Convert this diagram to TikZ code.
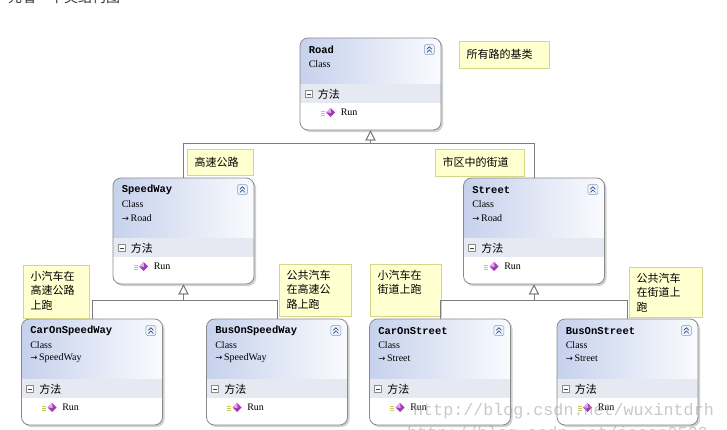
\documentclass[tikz,border=0pt]{standalone}
\usepackage{fontspec}
\setmainfont{Liberation Serif}
\newfontfamily\cjk{Noto Sans CJK SC}
\newfontfamily\monofont{Liberation Mono}
\newfontfamily\symfont{DejaVu Sans}
\usetikzlibrary{arrows.meta,shadows}

\definecolor{boxline}{HTML}{8A8A8A}
\definecolor{hdrleft}{HTML}{C6D1EC}
\definecolor{hdrright}{HTML}{FAFBFE}
\definecolor{bandfill}{HTML}{E6E9F2}
\definecolor{notefill}{HTML}{FFFFD0}
\definecolor{noteline}{HTML}{D6D68A}
\definecolor{linkline}{HTML}{7C7C7C}
\definecolor{btnline}{HTML}{7F9DB9}
\definecolor{btnfill}{HTML}{EEF3FA}
\definecolor{btnmark}{HTML}{2A4A94}
\definecolor{gemdark}{HTML}{A23DB5}
\definecolor{gemlight}{HTML}{EAA6F2}
\definecolor{gemline}{HTML}{C8C860}

\tikzset{
  classbox/.style={draw=boxline, line width=0.8pt, fill=white, rounded corners=8pt,
    minimum width=141pt, minimum height=106pt, inner sep=0pt,
    drop shadow={shadow xshift=2pt, shadow yshift=-2pt, opacity=0.3, fill=black!60},
    path picture={
      \shade[sharp corners, left color=hdrleft, right color=hdrright]
        (path picture bounding box.north west) rectangle ([yshift=46pt]path picture bounding box.south east);
      \fill[sharp corners, bandfill]
        ([yshift=46pt]path picture bounding box.south west) rectangle ([yshift=27pt]path picture bounding box.south east);
    }},
  classtitle/.style={anchor=west, inner sep=0pt, font=\monofont\bfseries\fontsize{10.5}{10.5}\selectfont},
  classtext/.style={anchor=west, inner sep=0pt, font=\fontsize{10}{10}\selectfont},
  methodtext/.style={anchor=west, inner sep=0pt, font=\cjk\fontsize{11}{11}\selectfont},
  note/.style={draw=noteline, fill=notefill, anchor=north west, align=left,
    inner xsep=7.5pt, inner ysep=3.5pt, font=\cjk\fontsize{11}{14.5}\selectfont},
  tallnote/.style={note, text height=11.5pt, text depth=#1},
  inherit/.style={draw=linkline, line width=0.8pt,
    -{Triangle[open, length=10pt, width=10pt]}},
  chevron/.style={draw=btnmark, line width=0.7pt},
  watermark/.style={anchor=base west, inner sep=0pt, text=black!35, text opacity=0.6,
    font=\monofont\fontsize{16.7}{16.7}\selectfont}
}

% inside of one class box: name, kind, base class, methods
\newcommand{\classparts}[3]{%
  \node[classtitle] (#1-name) at ([shift={(9,12)}]#1.north west) {#2};
  \node[classtext] (#1-kind) at ([shift={(9,26)}]#1.north west) {Class};
  \ifx&#3&\else
    \node[classtext] (#1-base) at ([shift={(9,40)}]#1.north west) {{\symfont\fontsize{8.5}{8.5}\selectfont →}\,#3};
  \fi
  \node[methodtext] (#1-methods) at ([shift={(18,-36.5)}]#1.south west) {方法};
  \node[classtext] (#1-run) at ([shift={(41,-18)}]#1.south west) {Run};
  % collapse button
  \coordinate (#1-btn) at ([shift={(-12,12)}]#1.north east);
  \draw[btnline, fill=btnfill, rounded corners=1.5pt] ([shift={(-5,-5)}]#1-btn) rectangle ([shift={(5,5)}]#1-btn);
  \draw[chevron] ([shift={(-2.5,-0.3)}]#1-btn) -- ([shift={(0,-2.8)}]#1-btn) -- ([shift={(2.5,-0.3)}]#1-btn);
  \draw[chevron] ([shift={(-2.5,2.8)}]#1-btn) -- ([shift={(0,0.3)}]#1-btn) -- ([shift={(2.5,2.8)}]#1-btn);
  % minus box
  \coordinate (#1-minus) at ([shift={(9,-36.5)}]#1.south west);
  \draw[black!45, fill=white] ([shift={(-3.5,-3.5)}]#1-minus) rectangle ([shift={(3.5,3.5)}]#1-minus);
  \draw[black!75] ([shift={(-2,0)}]#1-minus) -- ([shift={(2,0)}]#1-minus);
  % method icon
  \coordinate (#1-gem) at ([shift={(31,-18)}]#1.south west);
  \draw[gemline, line width=0.7pt] ([shift={(-10,-1.5)}]#1-gem) -- ++(4,0)
    ([shift={(-10,0.5)}]#1-gem) -- ++(4,0) ([shift={(-10,2.5)}]#1-gem) -- ++(4,0);
  \fill[gemdark] ([shift={(-4.5,0)}]#1-gem) -- ([shift={(0,-4.5)}]#1-gem) -- ([shift={(4.5,0)}]#1-gem) -- ([shift={(0,4.5)}]#1-gem) -- cycle;
  \fill[gemlight] ([shift={(-4.5,0)}]#1-gem) -- ([shift={(0,-4.5)}]#1-gem) -- ([shift={(0.5,0.5)}]#1-gem) -- cycle;
}

\begin{document}
\begin{tikzpicture}[x=1pt, y=-1pt]
\path[use as bounding box, fill=white] (0,0) rectangle (727,429);

\node[anchor=base west, inner sep=0pt, font=\cjk\fontsize{14}{14}\selectfont, text=black!80] (caption) at (8,2.5) {先看一下类结构图};

% classes
\node[classbox, minimum height=92pt] (road) at (370.5,84) {};
\node[classbox] (speedway) at (183.5,231) {};
\node[classbox] (street) at (534,231) {};
\node[classbox] (caronspeedway) at (92,372) {};
\node[classbox] (busonspeedway) at (277,372) {};
\node[classbox] (caronstreet) at (440,372) {};
\node[classbox] (busonstreet) at (627.5,372) {};

\classparts{road}{Road}{}
\classparts{speedway}{SpeedWay}{Road}
\classparts{street}{Street}{Road}
\classparts{caronspeedway}{CarOnSpeedWay}{SpeedWay}
\classparts{busonspeedway}{BusOnSpeedWay}{SpeedWay}
\classparts{caronstreet}{CarOnStreet}{Street}
\classparts{busonstreet}{BusOnStreet}{Street}

% comments
\node[note, text width=75pt, minimum height=27pt] (roadnote) at (459,41) {所有路的基类};
\node[note, text width=51pt, minimum height=26pt] (speednote) at (187,149) {高速公路};
\node[note, text width=74pt, minimum height=27pt] (streetnote) at (435,149) {市区中的街道};
\node[tallnote=34.5pt, text width=51pt] (car1note) at (23,265) {小汽车在\\高速公路\\上跑};
\node[tallnote=33.5pt, text width=57pt] (bus1note) at (279,264) {公共汽车\\在高速公\\路上跑};
\node[tallnote=33.5pt, text width=56pt] (car2note) at (370,264) {小汽车在\\街道上跑};
\node[tallnote=31.5pt, text width=58pt] (bus2note) at (629,267) {公共汽车\\在街道上\\跑};

% inheritance
\coordinate (roadjoin) at (370.5,143);
\coordinate (speedjoin) at (183.5,300);
\coordinate (streetjoin) at (534,300);

\draw[inherit] (speedway.north) |- (roadjoin) -- (road.south);
\draw[inherit] (street.north) |- (roadjoin) -- (road.south);
\draw[inherit] (caronspeedway.north) |- (speedjoin) -- (speedway.south);
\draw[inherit] (busonspeedway.north) |- (speedjoin) -- (speedway.south);
\draw[inherit] (caronstreet.north) |- (streetjoin) -- (street.south);
\draw[inherit] (busonstreet.north) |- (streetjoin) -- (street.south);

\node[watermark] (mark1) at (413,415) {http://blog.csdn.net/wuxintdrh};
\node[watermark] (mark2) at (407,438) {http://blog.csdn.net/jason0539};

\end{tikzpicture}
\end{document}
